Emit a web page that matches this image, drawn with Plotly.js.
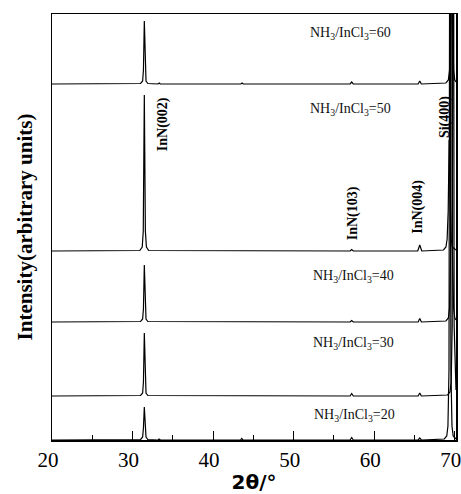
<!DOCTYPE html>
<html>
<head>
<meta charset="utf-8">
<script src="https://cdn.plot.ly/plotly-3.0.1.min.js"></script>
<style>html,body{margin:0;padding:0;background:#fff;}#chart{width:461px;height:494px;}</style>
</head>
<body>
<div id="chart"></div>
<script>
// Sample names (NH3/InCl3 ratio), bottom to top
const ratios = ["20", "30", "40", "50", "60"];
// Vertical stacking offsets (arbitrary units)
const offsets = [0, 44, 118, 189, 356];

// 2θ positions and relative intensities
const x20 = [20, 31.0, 31.25, 31.35, 31.46, 31.57, 31.67, 31.9, 33.15, 33.3, 33.45, 43.4, 43.55, 43.7, 57.0, 57.2, 57.4, 65.45, 65.65, 65.85, 68.7, 69.0, 69.15, 69.28, 69.4, 69.52, 69.65, 69.8, 70.15];
const y20 = [0, 0.5, 3, 12, 33, 12, 3, 0.5, 0, 1, 0, 0, 1.5, 0, 0, 2.5, 0, 0, 2, 0, 1, 4, 14, 70, 700, 70, 14, 4, 1];

const x30 = [20, 31.0, 31.25, 31.35, 31.46, 31.57, 31.67, 31.9, 57.0, 57.2, 57.4, 65.45, 65.65, 65.85, 69.1, 69.4, 69.55, 69.68, 69.8, 69.92, 70.05, 70.15];
const y30 = [0, 0.5, 3, 14, 63, 14, 3, 0.5, 0, 2.5, 0, 0, 3, 0, 1, 4, 14, 70, 800, 70, 14, 6];

const x40 = [20, 31.0, 31.25, 31.35, 31.46, 31.57, 31.67, 31.9, 57.0, 57.2, 57.4, 65.45, 65.65, 65.85, 68.9, 69.2, 69.35, 69.48, 69.6, 69.72, 69.85, 70.0, 70.15];
const y40 = [0, 0.5, 3, 13, 57, 13, 3, 0.5, 0, 1.5, 0, 0, 3.5, 0, 1, 4, 14, 70, 800, 70, 14, 4, 2];

const x50 = [20, 30.9, 31.2, 31.33, 31.46, 31.59, 31.72, 32.0, 57.0, 57.2, 57.4, 65.4, 65.65, 65.9, 68.6, 68.9, 69.05, 69.18, 69.3, 69.42, 69.55, 69.7, 70.15];
const y50 = [0, 0.5, 4, 20, 156, 20, 4, 0.5, 0, 1.5, 0, 0, 6, 0, 1, 4, 12, 40, 111, 40, 12, 4, 1];

const x60 = [20, 31.0, 31.25, 31.35, 31.46, 31.57, 31.67, 31.9, 33.15, 33.3, 33.45, 43.45, 43.6, 43.75, 57.0, 57.2, 57.4, 65.45, 65.65, 65.85, 68.9, 69.2, 69.35, 69.48, 69.6, 69.72, 69.85, 70.0, 70.15];
const y60 = [0, 0.5, 3, 14, 63, 14, 3, 0.5, 0, 1, 0, 0, 1, 0, 0, 2, 0, 0, 3, 0, 1, 4, 14, 60, 500, 60, 14, 4, 2];

const xs = [x20, x30, x40, x50, x60];
const ys = [y20, y30, y40, y50, y60];

// x-axis ticks
const tickValues = [20, 30, 40, 50, 60, 70];
const tickLabels = ["20", "30", "40", "50", "60", "70"];

// Peak labels
const peakNames = ["InN(002)", "InN(103)", "InN(004)", "Si(400)"];
const peakLabelX = [33.8, 57.4, 65.4, 68.8];
const peakLabelY = [316, 227, 233, 323];

// Ratio label positions
const ratioLabelX = [57.6, 57.4, 57.4, 57.1, 57.1];
const ratioLabelY = [25, 97, 164, 331, 407];

const SERIF = "'Liberation Serif', 'Times New Roman', Times, serif";

const traces = xs.map((xv, i) => ({
  x: xv,
  y: ys[i].map(v => v + offsets[i]),
  type: "scatter",
  mode: "lines",
  line: {color: "#000", width: 1.2},
  hoverinfo: "skip",
  showlegend: false
}));

const annotations = [];
ratios.forEach((r, i) => {
  annotations.push({
    x: ratioLabelX[i], y: ratioLabelY[i], xref: "x", yref: "y",
    text: "NH<sub>3</sub>/InCl<sub>3</sub>=" + r,
    showarrow: false, xanchor: "center", yanchor: "middle",
    font: {family: SERIF, size: 14, color: "#111"}
  });
});
peakNames.forEach((p, i) => {
  annotations.push({
    x: peakLabelX[i], y: peakLabelY[i], xref: "x", yref: "y",
    text: "<b>" + p + "</b>", textangle: -90,
    showarrow: false, xanchor: "center", yanchor: "middle",
    font: {family: SERIF, size: 14, color: "#000"}
  });
});

const layout = {
  width: 461, height: 494,
  margin: {l: 52, r: 5, t: 14, b: 54},
  paper_bgcolor: "#fff", plot_bgcolor: "#fff",
  font: {family: SERIF, size: 14, color: "#000"},
  showlegend: false,
  xaxis: {
    range: [20, 70.15],
    tickmode: "array", tickvals: tickValues, ticktext: tickLabels,
    ticks: "inside", ticklen: 9, tickwidth: 1.2, tickcolor: "#000",
    ticklabeloverflow: "allow", ticklabelshift: -4, ticklabelstandoff: 0,
    minor: {dtick: 5, tick0: 20, ticks: "inside", ticklen: 5, tickwidth: 1, tickcolor: "#000"},
    showline: true, linecolor: "#000", linewidth: 1.5, mirror: true,
    showgrid: false, zeroline: false,
    tickfont: {family: SERIF, size: 21, color: "#000"},
    title: {text: "<b>2θ/°</b>", standoff: 6,
      font: {family: "'DejaVu Sans', sans-serif", size: 20, color: "#000"}}
  },
  yaxis: {
    range: [0, 426],
    showticklabels: false, ticks: "",
    showline: true, linecolor: "#000", linewidth: 1.5, mirror: true,
    showgrid: false, zeroline: false,
    title: {text: "<b>Intensity(arbitrary units)</b>", standoff: 12,
      font: {family: SERIF, size: 21, color: "#000"}}
  },
  annotations: annotations
};

Plotly.newPlot("chart", traces, layout, {displayModeBar: false, staticPlot: true});
</script>
</body>
</html>
